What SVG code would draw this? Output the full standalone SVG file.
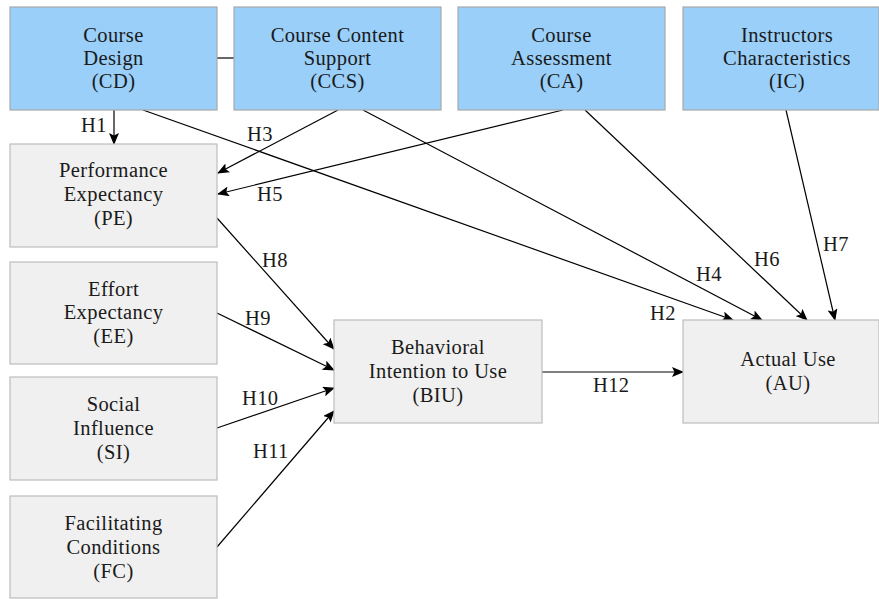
<svg xmlns="http://www.w3.org/2000/svg" width="879" height="599" viewBox="0 0 879 599">
<defs>
<marker id="ah" markerWidth="12" markerHeight="10" refX="11" refY="5" orient="auto" markerUnits="userSpaceOnUse">
<path d="M0,0 L12,5 L0,10 L2.5,5 Z" fill="#000"/>
</marker>
<style>
.blue{fill:#99CFF8;stroke:#A9A9A9;stroke-width:1.2}
.gray{fill:#F0F0F0;stroke:#BDBDBD;stroke-width:1.2}
text{font-family:"Liberation Serif","Times New Roman",serif;font-size:20.5px;fill:#1a1a1a;letter-spacing:0.4px}
.c{text-anchor:middle}
.ln{stroke:#000;stroke-width:1.2;fill:none}
.ar{marker-end:url(#ah)}
</style>
</defs>
<rect width="879" height="599" fill="#fff"/>

<g id="connectors">
<line class="ln" x1="217" y1="58" x2="234" y2="58"/>
<line class="ln ar" x1="114" y1="110" x2="114" y2="144"/>
<line class="ln ar" x1="143" y1="110" x2="733" y2="320"/>
<line class="ln ar" x1="338" y1="110" x2="218" y2="173"/>
<line class="ln ar" x1="363" y1="110" x2="762" y2="320"/>
<line class="ln ar" x1="563" y1="110" x2="218" y2="194"/>
<line class="ln ar" x1="585" y1="110" x2="807" y2="320"/>
<line class="ln ar" x1="786" y1="110" x2="835" y2="320"/>
<line class="ln ar" x1="217" y1="218" x2="334" y2="349"/>
<line class="ln ar" x1="217" y1="313" x2="334" y2="370"/>
<line class="ln ar" x1="217" y1="428" x2="334" y2="388"/>
<line class="ln ar" x1="217" y1="547" x2="334" y2="411"/>
<line class="ln ar" x1="542" y1="372" x2="683" y2="372"/>
</g>

<g id="labels">
<text x="81" y="132">H1</text>
<text x="650" y="320">H2</text>
<text x="247" y="141">H3</text>
<text x="696" y="281">H4</text>
<text x="257" y="201">H5</text>
<text x="754" y="266">H6</text>
<text x="823" y="251">H7</text>
<text x="262" y="267">H8</text>
<text x="245" y="325">H9</text>
<text x="242" y="405">H10</text>
<text x="253" y="458">H11</text>
<text x="593" y="392">H12</text>
</g>

<g id="CD">
<rect class="blue" x="10" y="7" width="207" height="103"/>
<text class="c" x="113.5" y="42">Course</text>
<text class="c" x="113.5" y="65">Design</text>
<text class="c" x="113.5" y="88">(CD)</text>
</g>
<g id="CCS">
<rect class="blue" x="234" y="7" width="207" height="103"/>
<text class="c" x="337.5" y="42">Course Content</text>
<text class="c" x="337.5" y="65">Support</text>
<text class="c" x="337.5" y="88">(CCS)</text>
</g>
<g id="CA">
<rect class="blue" x="458" y="7" width="207" height="103"/>
<text class="c" x="561.5" y="42">Course</text>
<text class="c" x="561.5" y="65">Assessment</text>
<text class="c" x="561.5" y="88">(CA)</text>
</g>
<g id="IC">
<rect class="blue" x="683" y="7" width="196" height="103"/>
<text class="c" x="787" y="42">Instructors</text>
<text class="c" x="787" y="65">Characteristics</text>
<text class="c" x="787" y="88">(IC)</text>
</g>
<g id="PE">
<rect class="gray" x="10" y="144" width="207" height="103"/>
<text class="c" x="113.5" y="177">Performance</text>
<text class="c" x="113.5" y="201">Expectancy</text>
<text class="c" x="113.5" y="225">(PE)</text>
</g>
<g id="EE">
<rect class="gray" x="10" y="262" width="207" height="102"/>
<text class="c" x="113.5" y="296">Effort</text>
<text class="c" x="113.5" y="319">Expectancy</text>
<text class="c" x="113.5" y="343">(EE)</text>
</g>
<g id="SI">
<rect class="gray" x="10" y="377" width="207" height="103"/>
<text class="c" x="113.5" y="411">Social</text>
<text class="c" x="113.5" y="435">Influence</text>
<text class="c" x="113.5" y="459">(SI)</text>
</g>
<g id="FC">
<rect class="gray" x="10" y="496" width="207" height="102"/>
<text class="c" x="113.5" y="530">Facilitating</text>
<text class="c" x="113.5" y="554">Conditions</text>
<text class="c" x="113.5" y="578">(FC)</text>
</g>
<g id="BIU">
<rect class="gray" x="334" y="320" width="208" height="103"/>
<text class="c" x="438" y="354">Behavioral</text>
<text class="c" x="438" y="378">Intention to Use</text>
<text class="c" x="438" y="402">(BIU)</text>
</g>
<g id="AU">
<rect class="gray" x="683" y="320" width="196" height="103"/>
<text class="c" x="788" y="366">Actual Use</text>
<text class="c" x="788" y="390">(AU)</text>
</g>
</svg>
